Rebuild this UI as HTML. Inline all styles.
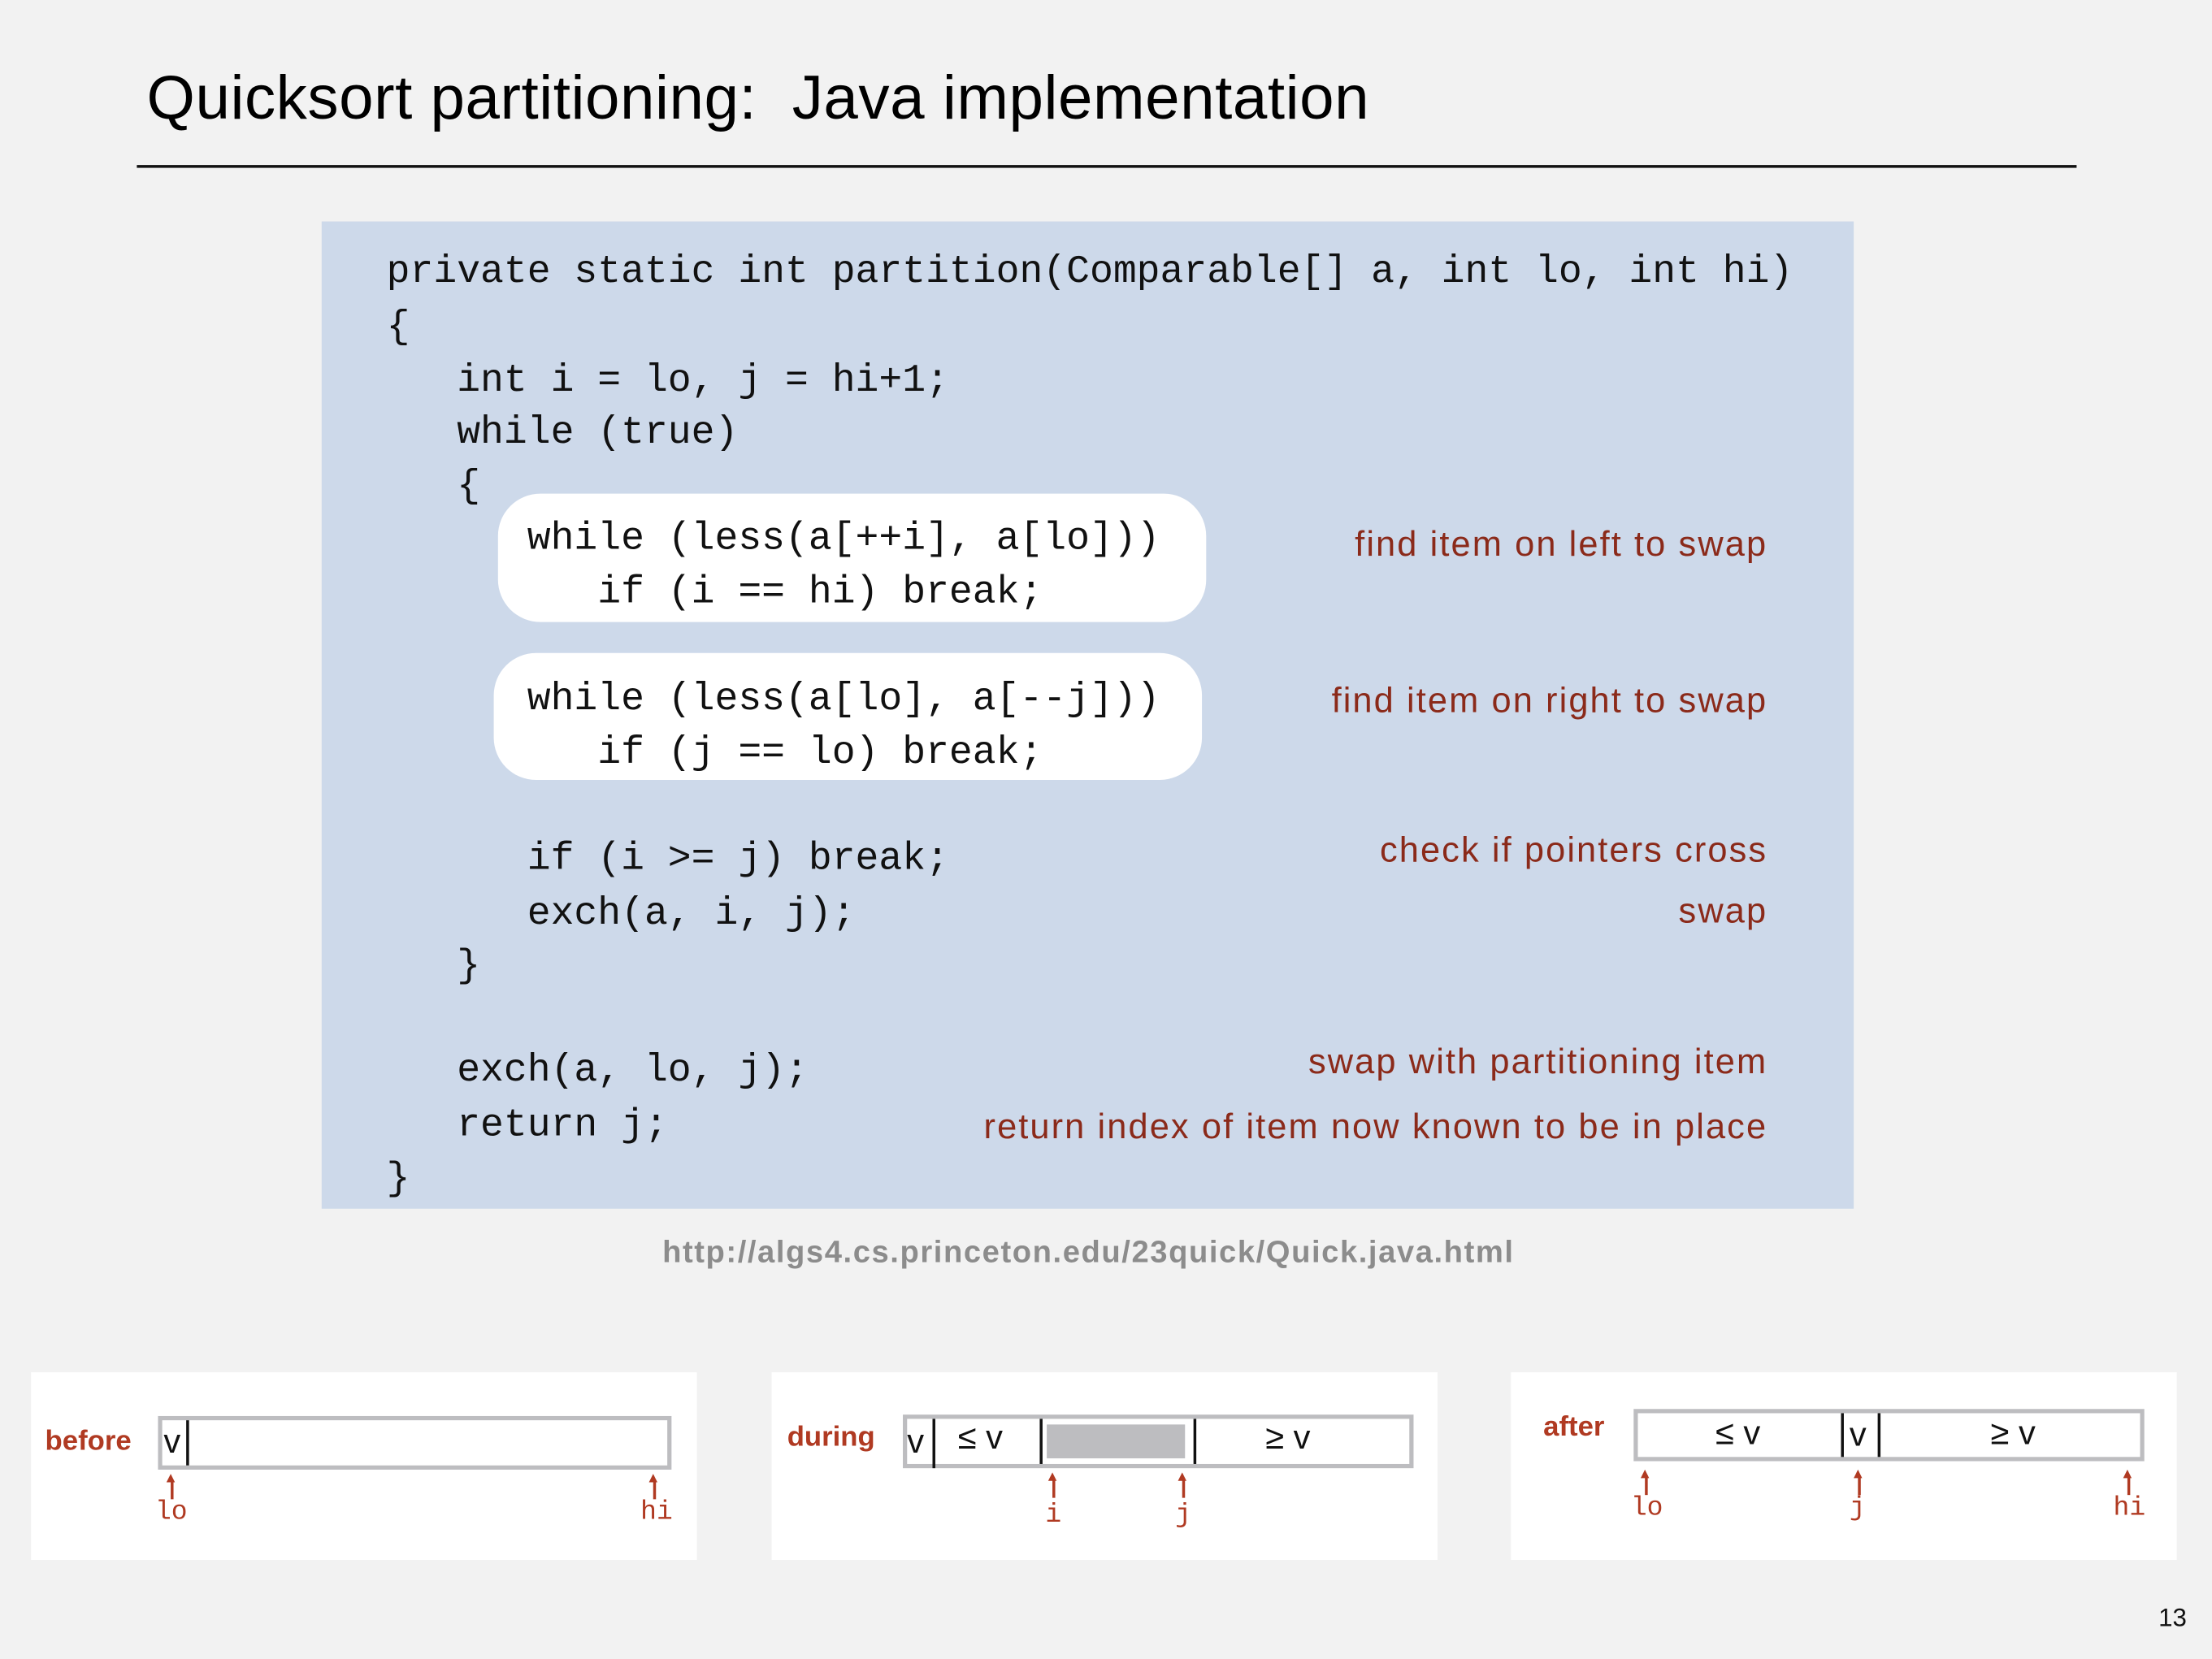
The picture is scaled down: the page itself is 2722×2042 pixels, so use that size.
<!DOCTYPE html>
<html><head><meta charset="utf-8"><style>
html,body{margin:0;padding:0;background:#f2f2f2;}
#w{width:2722px;height:2042px;overflow:hidden;position:relative;background:#f2f2f2;}
#s{position:absolute;left:0;top:0;width:1568px;height:1176px;transform:scale(1.736);transform-origin:0 0;font-family:"Liberation Sans",sans-serif;}
.a{position:absolute;white-space:pre;}
.code{font-family:"Liberation Mono",monospace;font-size:27.7px;color:#111;line-height:30px;}
.cm{color:#8b2a1a;font-size:25px;letter-spacing:1.2px;text-align:right;right:315px;}
.panel{position:absolute;background:#fff;top:973px;height:133px;width:472px;}
.bar{position:absolute;border:3px solid #bdbdc0;background:#fff;box-sizing:border-box;}
.dv{position:absolute;width:2px;background:#111;}
.lbl{position:absolute;color:#b03a22;font-weight:bold;font-size:20px;}
.idx{position:absolute;color:#b03a22;font-family:"Liberation Mono",monospace;font-size:19px;}
.arr{position:absolute;width:1.5px;height:14px;background:#b03a22;}
.arr:before{content:"";position:absolute;left:-3px;top:-4px;border-left:3.7px solid transparent;border-right:3.7px solid transparent;border-bottom:6px solid #b03a22;}
.sym{position:absolute;font-size:24px;color:#111;}
</style></head><body><div id="w"><div id="s">
<div class="a" style="left:104px;top:45px;font-size:44px;letter-spacing:0.3px;color:#000;">Quicksort partitioning:&nbsp; Java implementation</div>
<div class="a" style="left:97px;top:117px;width:1375px;height:2px;background:#111;"></div>
<div class="a" style="left:228px;top:157px;width:1086px;height:700px;background:#cdd9ea;"></div>
<div class="a" style="left:353px;top:350px;width:502px;height:91px;background:#fff;border-radius:30px;"></div>
<div class="a" style="left:350px;top:463px;width:502px;height:90px;background:#fff;border-radius:30px;"></div>
<div class="a code" style="left:274px;top:179px;">private static int partition(Comparable[] a, int lo, int hi)</div>
<div class="a code" style="left:274px;top:218px;">{</div>
<div class="a code" style="left:274px;top:256px;">   int i = lo, j = hi+1;</div>
<div class="a code" style="left:274px;top:293px;">   while (true)</div>
<div class="a code" style="left:274px;top:331px;">   {</div>
<div class="a code" style="left:274px;top:368px;">      while (less(a[++i], a[lo]))</div>
<div class="a code" style="left:274px;top:406px;">         if (i == hi) break;</div>
<div class="a code" style="left:274px;top:482px;">      while (less(a[lo], a[--j]))</div>
<div class="a code" style="left:274px;top:520px;">         if (j == lo) break;</div>
<div class="a code" style="left:274px;top:595px;">      if (i >= j) break;</div>
<div class="a code" style="left:274px;top:634px;">      exch(a, i, j);</div>
<div class="a code" style="left:274px;top:671px;">   }</div>
<div class="a code" style="left:274px;top:745px;">   exch(a, lo, j);</div>
<div class="a code" style="left:274px;top:784px;">   return j;</div>
<div class="a code" style="left:274px;top:822px;">}</div>
<div class="a cm" style="top:372px;">find item on left to swap</div>
<div class="a cm" style="top:483px;">find item on right to swap</div>
<div class="a cm" style="top:589px;">check if pointers cross</div>
<div class="a cm" style="top:632px;">swap</div>
<div class="a cm" style="top:739px;">swap with partitioning item</div>
<div class="a cm" style="top:785px;">return index of item now known to be in place</div>
<div class="a" style="left:0;width:1543px;text-align:center;top:875px;font-size:22px;letter-spacing:0.9px;font-weight:bold;color:#8c8c8c;">http://algs4.cs.princeton.edu/23quick/Quick.java.html</div>

<div class="panel" style="left:22px;"></div>
<div class="panel" style="left:547px;"></div>
<div class="panel" style="left:1071px;"></div>

<div class="lbl" style="left:32px;top:1011px;">before</div>
<div class="bar" style="left:112px;top:1004px;width:364px;height:38px;"></div>
<div class="dv" style="left:132px;top:1007px;height:32px;"></div>
<div class="sym" style="left:116px;top:1009px;">v</div>
<div class="arr" style="left:121px;top:1049px;"></div><div class="idx" style="left:110px;top:1061px;">lo</div>
<div class="arr" style="left:463px;top:1049px;"></div><div class="idx" style="left:454px;top:1061px;">hi</div>

<div class="lbl" style="left:558px;top:1008px;">during</div>
<div class="bar" style="left:640px;top:1003px;width:362px;height:38px;"></div>
<div class="a" style="left:742px;top:1010px;width:98px;height:24px;background:#bdbdc0;"></div>
<div class="dv" style="left:661px;top:1006px;height:35px;"></div>
<div class="dv" style="left:737px;top:1006px;height:32px;"></div>
<div class="dv" style="left:846px;top:1006px;height:32px;"></div>
<div class="sym" style="left:643px;top:1009px;">v</div>
<div class="sym" style="left:679px;top:1006px;">≤ v</div>
<div class="sym" style="left:897px;top:1006px;">≥ v</div>
<div class="arr" style="left:746px;top:1048px;"></div><div class="idx" style="left:741px;top:1063px;">i</div>
<div class="arr" style="left:838px;top:1048px;"></div><div class="idx" style="left:833px;top:1063px;">j</div>

<div class="lbl" style="left:1094px;top:1001px;">after</div>
<div class="bar" style="left:1158px;top:999px;width:362px;height:37px;"></div>
<div class="dv" style="left:1305px;top:1002px;height:31px;"></div>
<div class="dv" style="left:1331px;top:1002px;height:31px;"></div>
<div class="sym" style="left:1216px;top:1003px;">≤ v</div>
<div class="sym" style="left:1311px;top:1004px;">v</div>
<div class="sym" style="left:1411px;top:1003px;">≥ v</div>
<div class="arr" style="left:1166px;top:1046px;"></div><div class="idx" style="left:1156px;top:1058px;">lo</div>
<div class="arr" style="left:1317px;top:1046px;"></div><div class="idx" style="left:1311px;top:1058px;">j</div>
<div class="arr" style="left:1508px;top:1046px;"></div><div class="idx" style="left:1498px;top:1058px;">hi</div>

<div class="a" style="left:1530px;top:1137px;font-size:18px;color:#111;">13</div>
</div></div></body></html>
